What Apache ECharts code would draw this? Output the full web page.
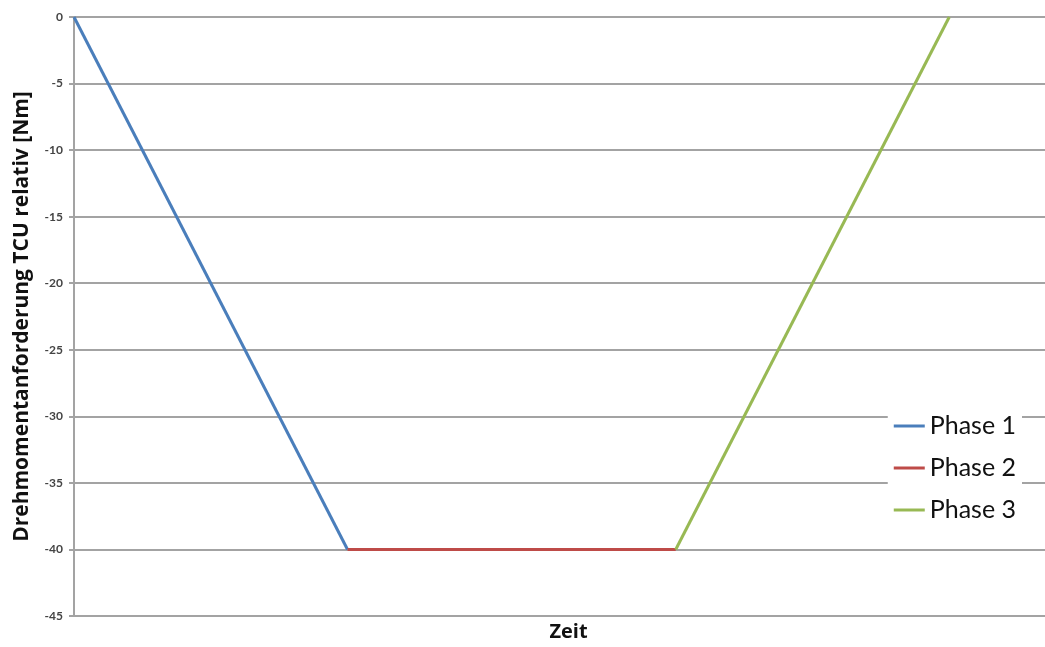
<!DOCTYPE html>
<html>
<head>
<meta charset="utf-8">
<script src="https://cdn.jsdelivr.net/npm/echarts@6/dist/echarts.min.js"></script>
<style>
  html, body { margin: 0; padding: 0; background: #fff; }
  #chart { width: 1045px; height: 647px; }
</style>
</head>
<body>
<div id="chart"></div>
<script>
// Time points (s) and torque request (Nm) for each phase
const phase1Time = [0, 10];
const phase1Torque = [0, -40];
const phase2Time = [10, 22];
const phase2Torque = [-40, -40];
const phase3Time = [22, 32];
const phase3Torque = [-40, 0];

const seriesNames = ['Phase 1', 'Phase 2', 'Phase 3'];
const seriesColors = ['#4a7ebb', '#be4b48', '#98b954'];

const yTicks = [0, -5, -10, -15, -20, -25, -30, -35, -40, -45];

function pairs(xs, ys) {
  return xs.map((x, i) => [x, ys[i]]);
}

const chart = echarts.init(document.getElementById('chart'));
const font = 'Lato, "Open Sans", sans-serif';
const boldFont = '"Open Sans", Lato, sans-serif';

chart.setOption({
  animation: false,
  backgroundColor: '#fff',
  grid: { left: 74, right: 0, top: 17, bottom: 31, containLabel: false, outerBoundsMode: 'none' },
  xAxis: {
    type: 'value',
    min: 0,
    max: 35.5,
    name: 'Zeit',
    nameLocation: 'middle',
    nameGap: 6,
    nameTextStyle: {
      fontFamily: boldFont, fontWeight: 'bold', fontSize: 20, color: '#111',
      verticalAlign: 'top', padding: [0, 0, 0, 18]
    },
    axisLine: { show: true, lineStyle: { color: '#a3a3a3', width: 2 } },
    axisTick: { show: false },
    axisLabel: { show: false },
    splitLine: { show: false }
  },
  yAxis: {
    type: 'value',
    min: -45,
    max: 0,
    interval: 5,
    name: 'Drehmomentanforderung TCU relativ [Nm]',
    nameLocation: 'middle',
    nameGap: 41,
    nameRotate: 90,
    nameTextStyle: { fontFamily: boldFont, fontWeight: 'bold', fontSize: 21, color: '#111' },
    axisLine: { show: true, onZero: false, lineStyle: { color: '#a3a3a3', width: 2 } },
    axisTick: { show: true, length: 5, lineStyle: { color: '#a3a3a3', width: 2 } },
    axisLabel: {
      fontFamily: font, fontSize: 12, fontWeight: 'bold', color: '#444', margin: 11,
      formatter: v => (yTicks.includes(v) ? String(v) : '')
    },
    splitLine: { show: true, lineStyle: { color: '#a3a3a3', width: 2 } }
  },
  legend: {
    orient: 'vertical',
    right: 23,
    top: 405,
    backgroundColor: '#fff',
    padding: [8, 6, 8, 6],
    itemGap: 16,
    itemWidth: 31,
    itemHeight: 3,
    textStyle: { fontFamily: font, fontSize: 25, lineHeight: 26, color: '#111' },
    data: seriesNames.map(n => ({ name: n, icon: 'rect' }))
  },
  series: [
    { name: seriesNames[0], type: 'line', data: pairs(phase1Time, phase1Torque) },
    { name: seriesNames[1], type: 'line', data: pairs(phase2Time, phase2Torque) },
    { name: seriesNames[2], type: 'line', data: pairs(phase3Time, phase3Torque) }
  ].map((s, i) => Object.assign(s, {
    showSymbol: false,
    symbol: 'none',
    color: seriesColors[i],
    lineStyle: { color: seriesColors[i], width: 3 }
  }))
});
</script>
</body>
</html>
